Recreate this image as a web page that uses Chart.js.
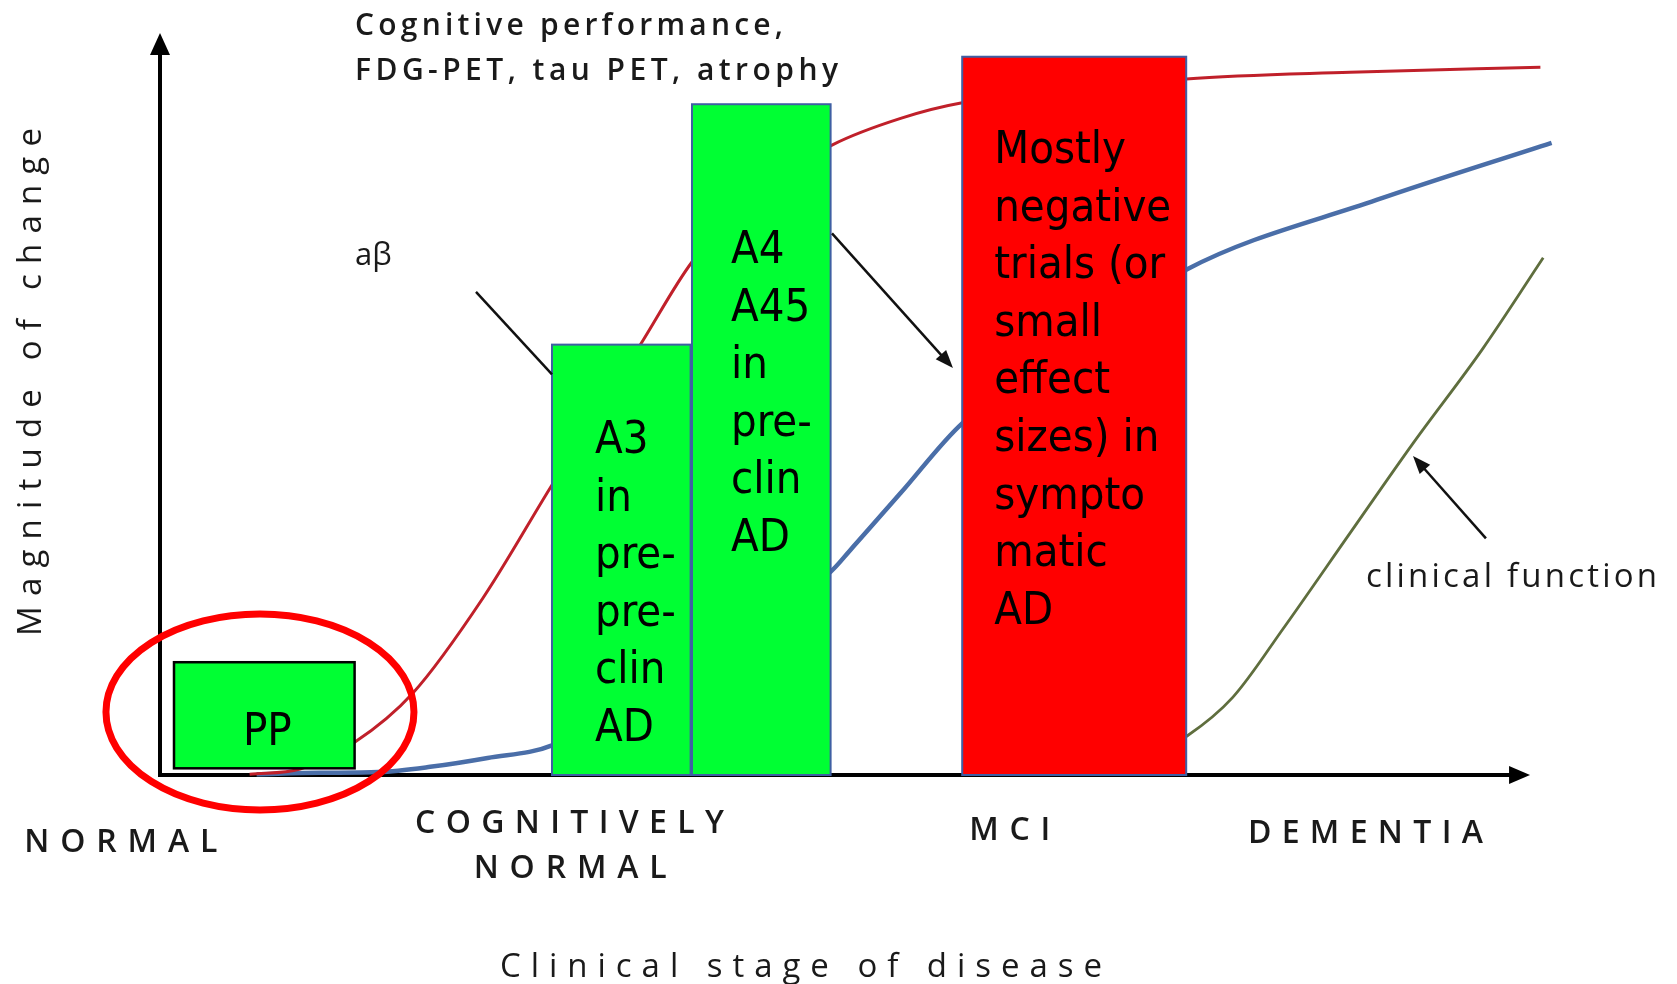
<!DOCTYPE html>
<html><head><meta charset="utf-8">
<script src="https://cdn.jsdelivr.net/npm/chart.js@4"></script>
<style>html,body{margin:0;padding:0;background:#fff;overflow:hidden}#wrap{width:1677px;height:984px}</style>
</head><body><div id="wrap"><canvas id="c" width="1677" height="984"></canvas></div>
<script>
// ---- data (x = clinical stage, 0-100 ; y = magnitude of change, 0-100) ----
const amyloidX = [6.4, 10.0, 13.9, 18.07, 23.07, 28.0, 34.43, 38.0, 42.9, 48.0, 52.9, 57.3, 73.3, 85.0, 98.6];
const amyloidY = [0.1, 0.8, 4.4, 11.05, 23.85, 39.08, 58.36, 69.14, 78.8, 84.9, 88.5, 90.6, 93.8, 94.7, 95.4];
const neuroX = [6.9, 11.4, 15.6, 19.3, 23.4, 28.0, 47.9, 49.3, 52.9, 57.3, 73.3, 86.9, 99.4];
const neuroY = [0.1, 0.3, 0.4, 1.1, 2.3, 4.0, 27.4, 30.3, 38.0, 47.4, 68.1, 77.5, 85.2];
const clinicalX = [69.0, 73.36, 76.64, 80.21, 85.0, 89.5, 94.5, 98.8];
const clinicalY = [1.0, 5.26, 10.5, 19.68, 32.6, 44.7, 57.5, 69.7];

const boxNames = ['PP', 'A3', 'A4', 'Symptomatic'];
const boxStart = [1.0, 28.0, 38.0, 57.3];
const boxEnd = [13.9, 37.9, 47.9, 73.3];
const boxBottom = [0.9, 0, 0, 0];
const boxTop = [15.2, 58.0, 90.4, 96.8];
const boxLabels = [
  ['PP'],
  ['A3', 'in', 'pre-', 'pre-', 'clin', 'AD'],
  ['A4', 'A45', 'in', 'pre-', 'clin', 'AD'],
  ['Mostly', 'negative', 'trials (or', 'small', 'effect', 'sizes) in', 'sympto', 'matic', 'AD']
];
const stageLabels = ['NORMAL', 'COGNITIVELY', 'NORMAL', 'MCI', 'DEMENTIA'];
const stageCenters = [-2.8, 29.25, 29.3, 60.7, 86.1];
const highlight = [7.14, 8.49, 11.0, 13.2]; // cx, cy, rx, ry around PP
const arrowFrom = [[22.57, 65.1], [48.0, 73.0], [94.71, 31.9]];
const arrowTo = [[28.0, 54.0], [56.64, 54.85], [89.5, 43.0]];
const arrowHead = [false, true, true];

// ---- layout / styles ----
const boxFill = ['#00ff33', '#00ff33', '#00ff33', '#ff0000'];
const boxBorder = ['#000000', '#3f5fa3', '#3f5fa3', '#3f5fa3'];
const boxTextLeft = [null, 43, 39, 32];
const boxFirstBase = [745, 453, 263, 163];
const stageBase = [852, 833, 878, 840, 843];
const stageWidth = [193, 309, 193, 81, 235];
const boxFont = '45px "DejaVu Sans Condensed", "Liberation Sans", Arial, sans-serif';

function pts(xs, ys) { return xs.map((x, i) => ({x: x, y: ys[i]})); }

function spaced(ctx, text, left, base, width) {
  const chars = [...text];
  const ws = chars.map(ch => ctx.measureText(ch).width);
  const total = ws.reduce((a, b) => a + b, 0);
  const gap = chars.length > 1 ? (width - total) / (chars.length - 1) : 0;
  let x = left;
  chars.forEach((ch, i) => { ctx.fillText(ch, x, base); x += ws[i] + gap; });
}

const decor = {
  id: 'decor',
  beforeDatasetsDraw(chart) {
    const ctx = chart.ctx, xs = chart.scales.x, ys = chart.scales.y;
    const x0 = xs.getPixelForValue(0), y0 = ys.getPixelForValue(0);
    const yTop = ys.getPixelForValue(100), xEnd = xs.getPixelForValue(97.86);
    ctx.save();
    ctx.strokeStyle = '#000'; ctx.fillStyle = '#000'; ctx.lineWidth = 4;
    ctx.beginPath(); ctx.moveTo(x0, y0); ctx.lineTo(x0, yTop + 18); ctx.stroke();
    ctx.beginPath(); ctx.moveTo(x0, yTop); ctx.lineTo(x0 - 10, yTop + 22); ctx.lineTo(x0 + 10, yTop + 22); ctx.closePath(); ctx.fill();
    ctx.beginPath(); ctx.moveTo(x0 - 2, y0); ctx.lineTo(xEnd - 16, y0); ctx.stroke();
    ctx.beginPath(); ctx.moveTo(xEnd, y0); ctx.lineTo(xEnd - 21, y0 - 9); ctx.lineTo(xEnd - 21, y0 + 9); ctx.closePath(); ctx.fill();
    ctx.restore();
  },
  afterDatasetsDraw(chart) {
    const ctx = chart.ctx, xs = chart.scales.x, ys = chart.scales.y;
    const px = v => xs.getPixelForValue(v), py = v => ys.getPixelForValue(v);
    ctx.save();
    // boxes
    boxNames.forEach((n, i) => {
      const l = px(boxStart[i]), r = px(boxEnd[i]), t = py(boxTop[i]), b = py(boxBottom[i]);
      ctx.fillStyle = boxFill[i];
      ctx.fillRect(l, t, r - l, b - t);
      ctx.strokeStyle = boxBorder[i]; ctx.lineWidth = i === 0 ? 2.5 : 2;
      ctx.strokeRect(l, t, r - l, b - t);
      ctx.fillStyle = '#000';
      ctx.font = boxFont;
      ctx.textBaseline = 'alphabetic';
      boxLabels[i].forEach((s, k) => {
        const base = boxFirstBase[i] + k * 57.6;
        if (boxTextLeft[i] === null) { ctx.textAlign = 'center'; ctx.fillText(s, (l + r) / 2 + 3, base); }
        else { ctx.textAlign = 'left'; ctx.fillText(s, l + boxTextLeft[i], base); }
      });
    });
    // highlight ellipse
    ctx.strokeStyle = '#ff0000'; ctx.lineWidth = 7;
    ctx.beginPath();
    ctx.ellipse(px(highlight[0]), py(highlight[1]), px(highlight[2]) - px(0), py(0) - py(highlight[3]), 0, 0, Math.PI * 2);
    ctx.stroke();
    // arrows
    ctx.strokeStyle = '#111'; ctx.fillStyle = '#111'; ctx.lineWidth = 2.5;
    arrowFrom.forEach((f, i) => {
      const ax = px(f[0]), ay = py(f[1]), bx = px(arrowTo[i][0]), by = py(arrowTo[i][1]);
      const ang = Math.atan2(by - ay, bx - ax);
      const hl = arrowHead[i] ? 18 : 0;
      ctx.beginPath(); ctx.moveTo(ax, ay); ctx.lineTo(bx - hl * 0.8 * Math.cos(ang), by - hl * 0.8 * Math.sin(ang)); ctx.stroke();
      if (arrowHead[i]) {
        ctx.beginPath(); ctx.moveTo(bx, by);
        ctx.lineTo(bx - hl * Math.cos(ang) + 7 * Math.sin(ang), by - hl * Math.sin(ang) - 7 * Math.cos(ang));
        ctx.lineTo(bx - hl * Math.cos(ang) - 7 * Math.sin(ang), by - hl * Math.sin(ang) + 7 * Math.cos(ang));
        ctx.closePath(); ctx.fill();
      }
    });
    // texts
    ctx.fillStyle = '#1a1a1a'; ctx.textAlign = 'left'; ctx.textBaseline = 'alphabetic';
    ctx.font = '600 30px "Open Sans", sans-serif';
    spaced(ctx, 'Cognitive performance,', 355, 35, 428);
    spaced(ctx, 'FDG-PET, tau PET, atrophy', 355, 80, 483);
    ctx.font = '31px "Open Sans", sans-serif';
    ctx.fillText('aβ', 355, 265);
    ctx.font = '500 33px "Open Sans", sans-serif';
    spaced(ctx, 'clinical function', 1366, 587, 291);
    ctx.font = '600 32px "Open Sans", sans-serif';
    stageLabels.forEach((s, i) => {
      const c = px(stageCenters[i]);
      spaced(ctx, s, c - stageWidth[i] / 2, stageBase[i], stageWidth[i]);
    });
    ctx.font = '500 33px "Open Sans", sans-serif';
    spaced(ctx, 'Clinical stage of disease', 500, 977, 602);
    ctx.save();
    ctx.translate(41, 382); ctx.rotate(-Math.PI / 2);
    ctx.font = '500 33px "Open Sans", sans-serif';
    spaced(ctx, 'Magnitude of change', -254, 0, 508);
    ctx.restore();
    ctx.restore();
  }
};

new Chart(document.getElementById('c'), {
  type: 'line',
  data: {
    datasets: [
      {label: 'aβ', data: pts(amyloidX, amyloidY), borderColor: '#c0202a', borderWidth: 3},
      {label: 'Cognitive performance, FDG-PET, tau PET, atrophy', data: pts(neuroX, neuroY), borderColor: '#4a6ea8', borderWidth: 4.5},
      {label: 'clinical function', data: pts(clinicalX, clinicalY), borderColor: '#5f6e3e', borderWidth: 2.8}
    ].map(d => Object.assign(d, {pointRadius: 0, cubicInterpolationMode: 'monotone', fill: false, clip: false}))
  },
  options: {
    responsive: false, animation: false, events: [],
    layout: {padding: {left: 160, right: 117, top: 33, bottom: 209}},
    scales: {
      x: {type: 'linear', min: 0, max: 100, display: false},
      y: {type: 'linear', min: 0, max: 100, display: false}
    },
    plugins: {legend: {display: false}, tooltip: {enabled: false}}
  },
  plugins: [decor]
});
</script></body></html>
